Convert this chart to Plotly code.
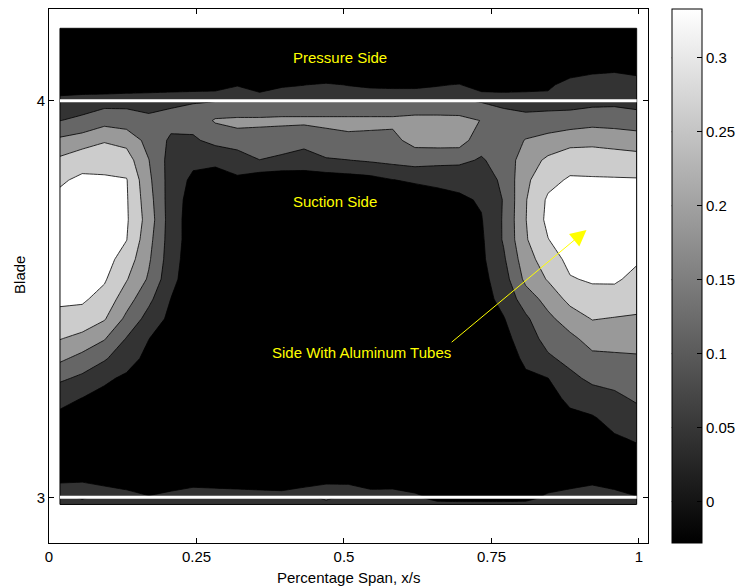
import numpy as np
import plotly.graph_objects as go

# Spanwise measurement stations (x/s)
span = [0.0186, 0.0563, 0.0939, 0.1314, 0.1690, 0.2066, 0.2442, 0.2819, 0.3193,
        0.3569, 0.3946, 0.4322, 0.4698, 0.5073, 0.5449, 0.5825, 0.6202, 0.6578,
        0.6953, 0.7329, 0.7705, 0.8081, 0.8458, 0.8832, 0.9208, 0.9585, 0.9961]

# Blade-normal stations of the three measurement patches
blade_main = [3.00, 3.05, 3.10, 3.15, 3.20, 3.25, 3.30, 3.35, 3.40, 3.45, 3.50,
              3.55, 3.60, 3.65, 3.70, 3.75, 3.80, 3.85, 3.90, 3.95, 4.00]
blade_top = [4.00, 4.04, 4.08, 4.1825]
blade_bottom = [2.982, 3.00]

# Passage patch, one list per span station, listed from blade 4 down to blade 3
passage_cols = [
    [0.073, 0.115, 0.202, 0.274, 0.324, 0.346, 0.364, 0.380, 0.381, 0.362, 0.344, 0.313, 0.263, 0.202, 0.129, 0.063, 0.029, 0.004, 0.012, 0.030, 0.080],
    [0.080, 0.130, 0.223, 0.307, 0.344, 0.362, 0.379, 0.397, 0.379, 0.361, 0.342, 0.305, 0.238, 0.165, 0.101, 0.043, 0.025, 0.004, 0.012, 0.033, 0.080],
    [0.087, 0.161, 0.254, 0.307, 0.341, 0.361, 0.380, 0.380, 0.360, 0.340, 0.308, 0.266, 0.193, 0.125, 0.053, 0.029, 0.012, 0.001, 0.004, 0.022, 0.073],
    [0.094, 0.148, 0.238, 0.293, 0.336, 0.339, 0.341, 0.334, 0.300, 0.265, 0.220, 0.171, 0.112, 0.066, 0.035, 0.019, 0.002, -0.003, 0.001, 0.008, 0.066],
    [0.087, 0.132, 0.163, 0.190, 0.204, 0.217, 0.228, 0.212, 0.198, 0.179, 0.134, 0.089, 0.045, 0.029, 0.014, -0.002, -0.006, -0.006, -0.006, -0.020, 0.050],
    [0.102, 0.138, 0.105, 0.087, 0.084, 0.080, 0.080, 0.080, 0.076, 0.066, 0.043, 0.026, 0.012, 0.001, -0.006, -0.010, -0.014, -0.014, -0.014, -0.014, 0.070],
    [0.112, 0.138, 0.107, 0.060, 0.030, 0.015, 0.008, 0.008, 0.001, -0.003, -0.006, -0.010, -0.014, -0.014, -0.017, -0.017, -0.017, -0.017, -0.017, 0.009, 0.080],
    [0.112, 0.196, 0.134, 0.066, 0.002, -0.006, -0.014, -0.014, -0.014, -0.014, -0.014, -0.014, -0.014, -0.017, -0.017, -0.017, -0.017, -0.017, -0.017, 0.002, 0.080],
    [0.112, 0.202, 0.166, 0.063, 0.038, 0.001, -0.014, -0.014, -0.014, -0.014, -0.014, -0.014, -0.014, -0.017, -0.017, -0.017, -0.017, -0.017, -0.017, -0.006, 0.080],
    [0.112, 0.202, 0.160, 0.115, -0.001, -0.006, -0.014, -0.014, -0.014, -0.014, -0.014, -0.014, -0.014, -0.017, -0.017, -0.017, -0.017, -0.017, -0.017, -0.017, 0.080],
    [0.130, 0.202, 0.151, 0.102, -0.006, -0.010, -0.014, -0.014, -0.014, -0.014, -0.014, -0.014, -0.014, -0.017, -0.017, -0.017, -0.017, -0.017, -0.017, -0.008, 0.070],
    [0.130, 0.202, 0.139, 0.086, 0.005, -0.006, -0.014, -0.014, -0.014, -0.014, -0.014, -0.014, -0.014, -0.017, -0.017, -0.017, -0.017, -0.017, -0.017, 0.009, 0.080],
    [0.130, 0.202, 0.166, 0.109, 0.004, -0.006, -0.014, -0.014, -0.014, -0.014, -0.014, -0.014, -0.014, -0.017, -0.017, -0.017, -0.017, -0.017, -0.017, 0.026, 0.080],
    [0.130, 0.202, 0.177, 0.115, 0.012, -0.006, -0.014, -0.014, -0.014, -0.014, -0.014, -0.014, -0.014, -0.017, -0.017, -0.017, -0.017, -0.017, -0.017, 0.025, 0.080],
    [0.130, 0.202, 0.174, 0.125, 0.021, -0.006, -0.014, -0.014, -0.014, -0.014, -0.014, -0.014, -0.014, -0.017, -0.017, -0.017, -0.017, -0.017, -0.017, -0.009, 0.080],
    [0.130, 0.202, 0.170, 0.136, 0.042, 0.001, -0.014, -0.014, -0.014, -0.014, -0.014, -0.014, -0.014, -0.017, -0.017, -0.017, -0.017, -0.017, -0.017, -0.006, 0.080],
    [0.130, 0.210, 0.212, 0.146, 0.055, -0.005, -0.014, -0.014, -0.014, -0.014, -0.014, -0.014, -0.014, -0.017, -0.017, -0.017, -0.017, -0.017, -0.017, -0.014, 0.060],
    [0.130, 0.210, 0.217, 0.141, 0.051, 0.033, 0.008, -0.014, -0.014, -0.014, -0.014, -0.014, -0.014, -0.017, -0.017, -0.017, -0.017, -0.017, -0.017, -0.020, 0.030],
    [0.123, 0.210, 0.221, 0.132, 0.066, 0.032, 0.008, -0.014, -0.014, -0.014, -0.014, -0.014, -0.014, -0.017, -0.017, -0.017, -0.017, -0.017, -0.017, -0.020, 0.000],
    [0.109, 0.186, 0.145, 0.109, 0.080, 0.051, 0.040, 0.033, 0.030, 0.022, 0.015, 0.001, -0.006, -0.014, -0.014, -0.014, -0.014, -0.014, -0.014, -0.020, 0.000],
    [0.102, 0.138, 0.145, 0.145, 0.130, 0.120, 0.123, 0.123, 0.105, 0.084, 0.066, 0.040, 0.022, 0.008, -0.003, -0.006, -0.014, -0.014, -0.014, -0.020, 0.000],
    [0.087, 0.137, 0.192, 0.224, 0.246, 0.256, 0.258, 0.253, 0.231, 0.206, 0.151, 0.104, 0.080, 0.057, 0.033, 0.015, 0.004, -0.003, -0.006, -0.020, 0.020],
    [0.087, 0.143, 0.213, 0.274, 0.310, 0.343, 0.350, 0.330, 0.297, 0.266, 0.214, 0.171, 0.141, 0.105, 0.043, 0.022, 0.008, 0.001, -0.003, -0.014, 0.060],
    [0.087, 0.148, 0.236, 0.300, 0.341, 0.362, 0.384, 0.374, 0.351, 0.327, 0.281, 0.223, 0.171, 0.136, 0.099, 0.058, 0.030, 0.015, 0.004, -0.004, 0.080],
    [0.094, 0.161, 0.241, 0.299, 0.339, 0.359, 0.380, 0.380, 0.360, 0.340, 0.306, 0.263, 0.215, 0.171, 0.131, 0.084, 0.037, 0.019, 0.015, 0.022, 0.080],
    [0.098, 0.158, 0.232, 0.295, 0.338, 0.359, 0.379, 0.380, 0.360, 0.341, 0.305, 0.256, 0.215, 0.176, 0.138, 0.102, 0.069, 0.037, 0.022, -0.012, 0.080],
    [0.087, 0.151, 0.222, 0.290, 0.337, 0.356, 0.375, 0.358, 0.340, 0.315, 0.284, 0.253, 0.215, 0.180, 0.153, 0.125, 0.091, 0.052, 0.022, -0.020, 0.048],
]

# Pressure-side patch above blade 4, rows from blade 4 upward
pressure_rows = [
    [0.08, 0.08, 0.08, 0.08, 0.08, 0.08, 0.08, 0.08, 0.08, 0.08, 0.08, 0.08, 0.08, 0.08,
     0.08, 0.08, 0.08, 0.08, 0.08, 0.08, 0.08, 0.08, 0.08, 0.08, 0.08, 0.08, 0.08],
    [-0.035, -0.012, -0.006, 0.003, 0.008, 0.014, 0.018, 0.021, 0.041, 0.012, 0.037, 0.043, 0.051, 0.042,
     0.035, 0.033, 0.033, 0.040, 0.047, 0.017, 0.012, 0.016, 0.022, 0.090, 0.090, 0.090, 0.090],
    [-0.02, -0.02, -0.02, -0.02, -0.02, -0.02, -0.02, -0.02, -0.02, -0.02, -0.02, -0.02, -0.02, -0.02,
     -0.02, -0.02, -0.02, -0.02, -0.02, -0.02, -0.02, -0.02, -0.02, -0.017, 0.022, 0.031, 0.010],
    [-0.025, -0.025, -0.025, -0.025, -0.025, -0.025, -0.025, -0.025, -0.025, -0.025, -0.025, -0.025, -0.025, -0.025,
     -0.025, -0.025, -0.025, -0.025, -0.025, -0.025, -0.025, -0.025, -0.025, -0.025, -0.025, -0.025, -0.025],
]

# Thin patch just below blade 3
lower_rows = [
    [0.08, 0.08, 0.08, 0.08, 0.08, 0.08, 0.08, 0.08, 0.08, 0.08, 0.08, 0.08, 0.08, 0.08,
     0.08, 0.08, 0.08, 0.08, 0.08, 0.08, 0.08, 0.08, 0.08, 0.08, 0.08, 0.08, 0.08],
    [0.08, 0.03, 0.08, 0.08, 0.08, 0.08, 0.08, 0.08, 0.08, 0.08, 0.08, 0.08, 0.14, 0.08,
     0.08, 0.08, 0.06, 0.0, -0.01, -0.01, -0.01, 0.0, 0.06, 0.08, 0.08, 0.08, 0.08],
]

cbar_ticks = [0, 0.05, 0.1, 0.15, 0.2, 0.25, 0.3]
cbar_labels = ["0", "0.05", "0.1", "0.15", "0.2", "0.25", "0.3"]
cmin, cmax = -0.028, 0.333

z_main = np.array(passage_cols)[:, ::-1].T

gray = [[0, "rgb(0,0,0)"], [1, "rgb(255,255,255)"]]
FONT = "Liberation Sans, Arial, Helvetica, sans-serif"

contour_style = dict(
    colorscale=gray,
    autocontour=False,
    contours=dict(start=0.044, end=0.332, size=0.072, coloring="fill", showlines=True),
    line=dict(color="black", width=0.8, smoothing=0),
    showscale=False,
    hoverinfo="skip",
)

fig = go.Figure()
fig.add_trace(go.Contour(x=span, y=blade_main, z=z_main, **contour_style))
fig.add_trace(go.Contour(x=span, y=blade_top, z=pressure_rows, **contour_style))
fig.add_trace(go.Contour(x=span, y=blade_bottom, z=lower_rows, **contour_style))

# continuous gray scale bar (cell sits outside the visible axes)
CB_X = 1.0396
fig.add_trace(go.Heatmap(
    x=[5, 6], y=[10, 11], z=[[cmin, cmax], [cmax, cmin]],
    zmin=cmin, zmax=cmax, colorscale=gray, hoverinfo="skip",
    colorbar=dict(
        x=CB_X, xanchor="left", xpad=0, y=0.5, yanchor="middle",
        len=1, lenmode="fraction", ypad=0, thickness=30, thicknessmode="pixels",
        outlinewidth=1, outlinecolor="black",
        ticks="inside", ticklen=5, tickcolor="black", tickwidth=1,
        tickvals=cbar_ticks, ticktext=cbar_labels,
        tickfont=dict(size=15, family=FONT, color="black"),
    ),
))

x0, x1 = span[0], span[-1]
shapes = [
    dict(type="rect", xref="x", yref="y", x0=x0, x1=x1, y0=blade_bottom[0], y1=blade_top[-1],
         line=dict(color="black", width=1), layer="above"),
    dict(type="line", xref="x", yref="y", x0=x0, x1=x1, y0=3, y1=3,
         line=dict(color="white", width=3), layer="above"),
    dict(type="line", xref="x", yref="y", x0=x0, x1=x1, y0=4, y1=4,
         line=dict(color="white", width=3), layer="above"),
]
# tick marks on the left edge of the scale bar
for v in cbar_ticks:
    yp = (v - cmin) / (cmax - cmin)
    shapes.append(dict(type="line", xref="paper", yref="paper", x0=CB_X, x1=CB_X + 5 / 599,
                       y0=yp, y1=yp, line=dict(color="black", width=1), layer="above"))

label_font = dict(size=15, family=FONT, color="#ffff00")
annotations = [
    dict(x=0.493, y=4.110, xref="x", yref="y", text="Pressure Side", showarrow=False, font=label_font),
    dict(x=0.485, y=3.747, xref="x", yref="y", text="Suction Side", showarrow=False, font=label_font),
    dict(x=0.530, y=3.364, xref="x", yref="y", text="Side With Aluminum Tubes", showarrow=False, font=label_font),
    dict(x=0.911, y=3.674, xref="x", yref="y", ax=0.680, ay=3.388, axref="x", ayref="y",
         text="", showarrow=True, arrowhead=2, arrowsize=3.2, arrowwidth=1, arrowcolor="#ffff00",
         standoff=0, startstandoff=0),
    dict(x=0.5008, y=-0.0637, xref="paper", yref="paper", text="Percentage Span, x/s",
         showarrow=False, yanchor="middle", font=dict(size=15, family=FONT, color="black")),
    dict(x=-0.0484, y=0.502, xref="paper", yref="paper", text="Blade", textangle=-90,
         showarrow=False, xanchor="center", yanchor="middle", font=dict(size=15, family=FONT, color="black")),
]

axis_common = dict(
    showgrid=False, zeroline=False, showline=True, linecolor="black", linewidth=1,
    mirror="ticks", ticks="inside", ticklen=5, tickcolor="black", tickwidth=1,
    tickfont=dict(size=15, family=FONT, color="black"),
)

fig.update_layout(
    width=739, height=587,
    margin=dict(l=49, r=91, t=9, b=44, autoexpand=False),
    paper_bgcolor="white", plot_bgcolor="white",
    showlegend=False,
    font=dict(family=FONT, size=15, color="black"),
    xaxis=dict(range=[0, 1.0153], tickvals=[0, 0.25, 0.5, 0.75, 1],
               ticktext=["0", "0.25", "0.5", "0.75", "1"], **axis_common),
    yaxis=dict(range=[2.8848, 4.2312], tickvals=[3, 4], ticktext=["3", "4"], **axis_common),
    shapes=shapes,
    annotations=annotations,
)

fig.write_html("out.html")
